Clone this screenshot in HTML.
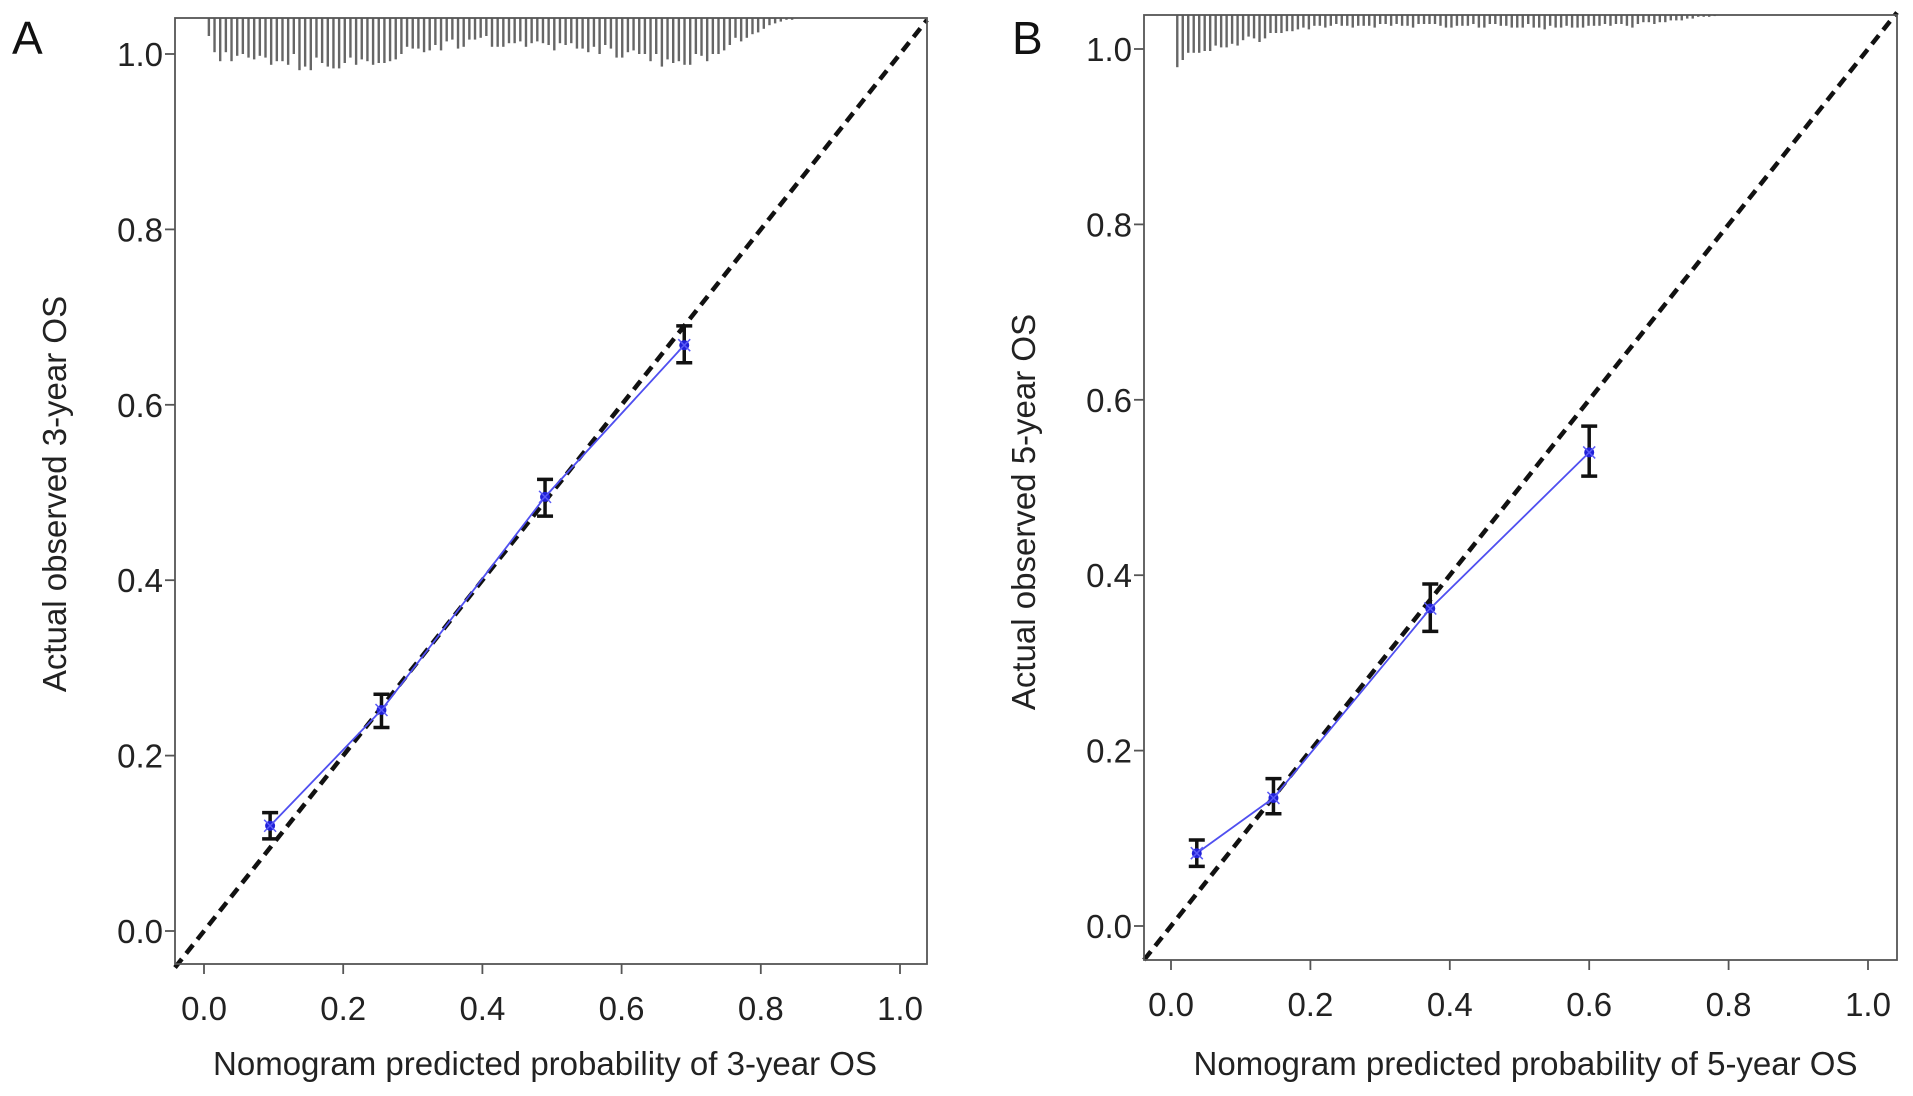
<!DOCTYPE html>
<html><head><meta charset="utf-8"><style>
html,body{margin:0;padding:0;background:#fff;}
svg{display:block;font-family:"Liberation Sans",sans-serif;}
</style></head><body>
<svg id="chart" width="1913" height="1096" viewBox="0 0 1913 1096" xmlns="http://www.w3.org/2000/svg"></svg>
<script>
const tickValues = [0, 0.2, 0.4, 0.6, 0.8, 1.0];
const tickLabels = ["0.0", "0.2", "0.4", "0.6", "0.8", "1.0"];
// Panel A data
const aPredicted = [0.095, 0.255, 0.49, 0.69];
const aObserved = [0.12, 0.252, 0.495, 0.668];
const aLower = [0.105, 0.232, 0.473, 0.648];
const aUpper = [0.135, 0.27, 0.515, 0.69];
const aRugStart = 0.007, aRugEnd = 0.845;
const aRug = [50,95,120,95,120,105,100,110,115,105,110,130,120,120,130,100,145,135,145,110,125,135,140,140,125,110,130,115,120,130,125,125,120,115,100,80,85,85,95,90,75,90,65,60,85,80,60,60,55,50,80,80,80,70,70,65,80,70,65,70,75,90,70,75,70,85,85,95,80,100,75,85,110,110,95,90,100,100,120,100,135,115,125,120,130,130,100,105,120,100,100,90,75,55,65,55,45,40,30,20,15,10,5,5];
// Panel B data
const bPredicted = [0.037, 0.147, 0.372, 0.6];
const bObserved = [0.083, 0.146, 0.362, 0.54];
const bLower = [0.068, 0.128, 0.336, 0.513];
const bUpper = [0.098, 0.168, 0.39, 0.57];
const bRugStart = 0.009, bRugEnd = 0.78;
const bRug = [145,125,105,105,105,100,100,85,90,90,80,85,70,60,65,75,65,50,50,50,45,45,40,35,40,30,30,35,30,25,30,30,35,30,30,30,35,25,25,30,25,30,30,35,25,25,25,25,30,35,35,30,30,30,25,35,35,25,25,30,30,35,35,35,25,35,35,40,30,35,35,30,35,35,35,30,30,30,25,30,25,25,30,35,25,20,20,25,20,20,15,15,15,10,10,5,5,5,3];

const NS = "http://www.w3.org/2000/svg";
const svg = document.getElementById("chart");
function mk(tag, attrs, parent){const e=document.createElementNS(NS,tag);for(const k in attrs)e.setAttribute(k,attrs[k]);(parent||svg).appendChild(e);return e;}

function panel(cfg){
  const g = mk("g",{});
  
  
  const xs = v => cfg.x0 + v*(cfg.x1-cfg.x0);
  const ys = v => cfg.y0 - v*(cfg.y0-cfg.y1);
  const L = cfg.boxL, R = cfg.boxR, T = cfg.boxT, B = cfg.boxB;
  const rg = mk("g",{stroke:"#666","stroke-width":2.4},g);
  
  
  const n = cfg.rug.length;
  for(let i=0;i<n;i++){
    const xv = cfg.rugStart + (cfg.rugEnd-cfg.rugStart)*i/(n-1);
    const len = cfg.rug[i]*0.36;
    const ln = mk("line",{x1:xs(xv),x2:xs(xv),y1:T,y2:T+len},rg);
    
    
  }
  const vL=(L-cfg.x0)/(cfg.x1-cfg.x0), vR=(R-cfg.x0)/(cfg.x1-cfg.x0);
  const d = mk("line",{x1:xs(vL),y1:ys(vL),x2:xs(vR),y2:ys(vR),stroke:"#111","stroke-width":4.5,"stroke-dasharray":"11,7"},g);
  
  
  const pts = cfg.pred.map((p,i)=>xs(p)+","+ys(cfg.obs[i])).join(" ");
  const pl = mk("polyline",{points:pts,fill:"none",stroke:"#4f4ff0","stroke-width":1.8},g);
  
  
  cfg.pred.forEach((p,i)=>{
    const x=xs(p);
    const eg = mk("g",{stroke:"#111","stroke-width":3.5},g);
    
    
    mk("line",{x1:x,x2:x,y1:ys(cfg.lo[i]),y2:ys(cfg.hi[i])},eg);
    mk("line",{x1:x-8,x2:x+8,y1:ys(cfg.lo[i]),y2:ys(cfg.lo[i])},eg);
    mk("line",{x1:x-8,x2:x+8,y1:ys(cfg.hi[i]),y2:ys(cfg.hi[i])},eg);
    const c = mk("circle",{cx:x,cy:ys(cfg.obs[i]),r:5,fill:"#2020d8"},g);
    
    
    const y=ys(cfg.obs[i]);
    mk("path",{d:`M${x-6},${y-6}L${x+6},${y+6}M${x-6},${y+6}L${x+6},${y-6}`,stroke:"#5a5af5","stroke-width":1.5},g);
  });
  const bx = mk("rect",{x:L,y:T,width:R-L,height:B-T,fill:"none",stroke:"#555","stroke-width":1.8},g);
  
  
  tickValues.forEach((v,i)=>{
    mk("line",{x1:xs(v),x2:xs(v),y1:B,y2:B+10,stroke:"#555","stroke-width":1.8},g);
    const tx = mk("text",{x:xs(v),y:B+56,"text-anchor":"middle","font-size":33,fill:"#222"},g);
    tx.textContent = tickLabels[i];
    
    
    mk("line",{x1:L,x2:L-10,y1:ys(v),y2:ys(v),stroke:"#555","stroke-width":1.8},g);
    const ty = mk("text",{x:L-12,y:ys(v)+12,"text-anchor":"end","font-size":33,fill:"#222"},g);
    ty.textContent = tickLabels[i];
    
    
  });
  const xt = mk("text",{x:(L+R)/2+cfg.xTitleDx,y:1075,"text-anchor":"middle","font-size":33,fill:"#222"},g);
  xt.textContent = cfg.xTitle;
  
  
  const yc=cfg.yTitleY;
  const yt = mk("text",{x:cfg.yTitleX,y:yc,"text-anchor":"middle","font-size":33,fill:"#222",transform:`rotate(-90 ${cfg.yTitleX} ${yc})`},g);
  yt.textContent = cfg.yTitle;
  
  
  const lt = mk("text",{x:cfg.letterX,y:54,"font-size":46,fill:"#111"},g);
  lt.textContent = cfg.letter;
  
  
}

panel({name:"panel-a-3-year",x0:204,x1:900,y0:931,y1:54,boxL:175,boxR:927,boxT:18,boxB:964,
  pred:aPredicted,obs:aObserved,lo:aLower,hi:aUpper,rug:aRug,rugStart:aRugStart,rugEnd:aRugEnd,xTitleDx:-6,
  xTitle:"Nomogram predicted probability of 3-year OS",yTitle:"Actual observed 3-year OS",yTitleX:66,yTitleY:494,letter:"A",letterX:12});
panel({name:"panel-b-5-year",x0:1171,x1:1868,y0:926,y1:49,boxL:1144,boxR:1897,boxT:15,boxB:960,
  pred:bPredicted,obs:bObserved,lo:bLower,hi:bUpper,rug:bRug,rugStart:bRugStart,rugEnd:bRugEnd,xTitleDx:5,
  xTitle:"Nomogram predicted probability of 5-year OS",yTitle:"Actual observed 5-year OS",yTitleX:1035,yTitleY:512,letter:"B",letterX:1012});
</script>
</body></html>
